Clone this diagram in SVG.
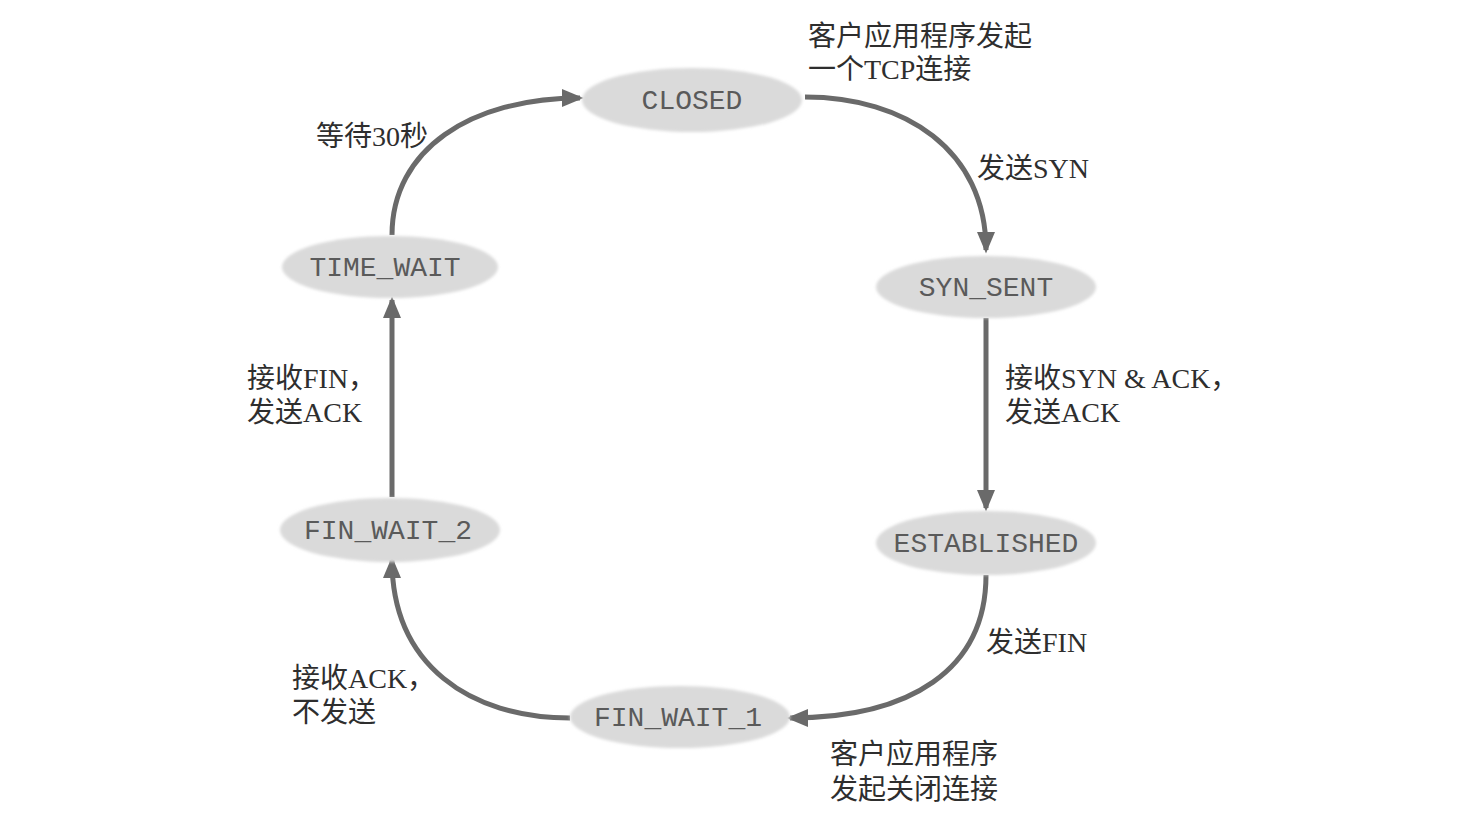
<svg xmlns="http://www.w3.org/2000/svg" width="1478" height="830" viewBox="0 0 1478 830">
  <style>
    .state ellipse { fill: #dadada; }
    .state text { font-family: "Liberation Mono", "Courier New", monospace; font-size: 28px; fill: #5a5a5a; text-anchor: middle; }
    .edge { fill: none; stroke: #6a6a6a; stroke-width: 5; marker-end: url(#arrow); }
    .label { font-family: "Liberation Serif", "Noto Sans CJK SC", serif; font-size: 28px; fill: #2e2e2e; }
  </style>
  <defs>
    <marker id="arrow" viewBox="0 0 12 10" refX="10" refY="5" markerWidth="4.4" markerHeight="3.6" orient="auto" markerUnits="strokeWidth">
      <path d="M0,0 L12,5 L0,10 z" fill="#6a6a6a"/>
    </marker>
    <filter id="soft" x="-10%" y="-20%" width="120%" height="140%">
      <feGaussianBlur stdDeviation="1.5"/>
    </filter>
  </defs>
  <rect width="1478" height="830" fill="#ffffff"/>

  <g id="connectors">
    <path class="edge" d="M805,97 C905,97 986,150 986,250"/>
    <path class="edge" d="M986,318 L986,508"/>
    <path class="edge" d="M986,575 C986,670 910,718 790,718"/>
    <path class="edge" d="M570,718 C470,718 392,665 392,560"/>
    <path class="edge" d="M392,497 L392,300"/>
    <path class="edge" d="M392,235 C392,150 470,98 580,98"/>
  </g>

  <g id="closed" class="state">
    <ellipse cx="692" cy="100" rx="110" ry="32" filter="url(#soft)"/>
    <text x="692" y="109">CLOSED</text>
  </g>
  <g id="syn-sent" class="state">
    <ellipse cx="986" cy="287" rx="110" ry="31" filter="url(#soft)"/>
    <text x="986" y="296">SYN_SENT</text>
  </g>
  <g id="established" class="state">
    <ellipse cx="986" cy="543" rx="110" ry="32" filter="url(#soft)"/>
    <text x="986" y="552">ESTABLISHED</text>
  </g>
  <g id="fin-wait-1" class="state">
    <ellipse cx="680" cy="717" rx="110" ry="31" filter="url(#soft)"/>
    <text x="678" y="726">FIN_WAIT_1</text>
  </g>
  <g id="fin-wait-2" class="state">
    <ellipse cx="390" cy="530" rx="110" ry="32" filter="url(#soft)"/>
    <text x="388" y="539">FIN_WAIT_2</text>
  </g>
  <g id="time-wait" class="state">
    <ellipse cx="390" cy="267" rx="108" ry="31" filter="url(#soft)"/>
    <text x="385" y="276">TIME_WAIT</text>
  </g>

  <g id="labels">
    <text class="label" x="808" y="46">客户应用程序发起</text>
    <text class="label" x="808" y="79">一个TCP连接</text>
    <text class="label" x="977" y="178">发送SYN</text>
    <text class="label" x="1005" y="388">接收SYN &amp; ACK，</text>
    <text class="label" x="1005" y="422">发送ACK</text>
    <text class="label" x="986" y="652">发送FIN</text>
    <text class="label" x="830" y="764">客户应用程序</text>
    <text class="label" x="830" y="799">发起关闭连接</text>
    <text class="label" x="292" y="688">接收ACK，</text>
    <text class="label" x="292" y="722">不发送</text>
    <text class="label" x="247" y="388">接收FIN，</text>
    <text class="label" x="247" y="422">发送ACK</text>
    <text class="label" x="316" y="146">等待30秒</text>
  </g>
</svg>
